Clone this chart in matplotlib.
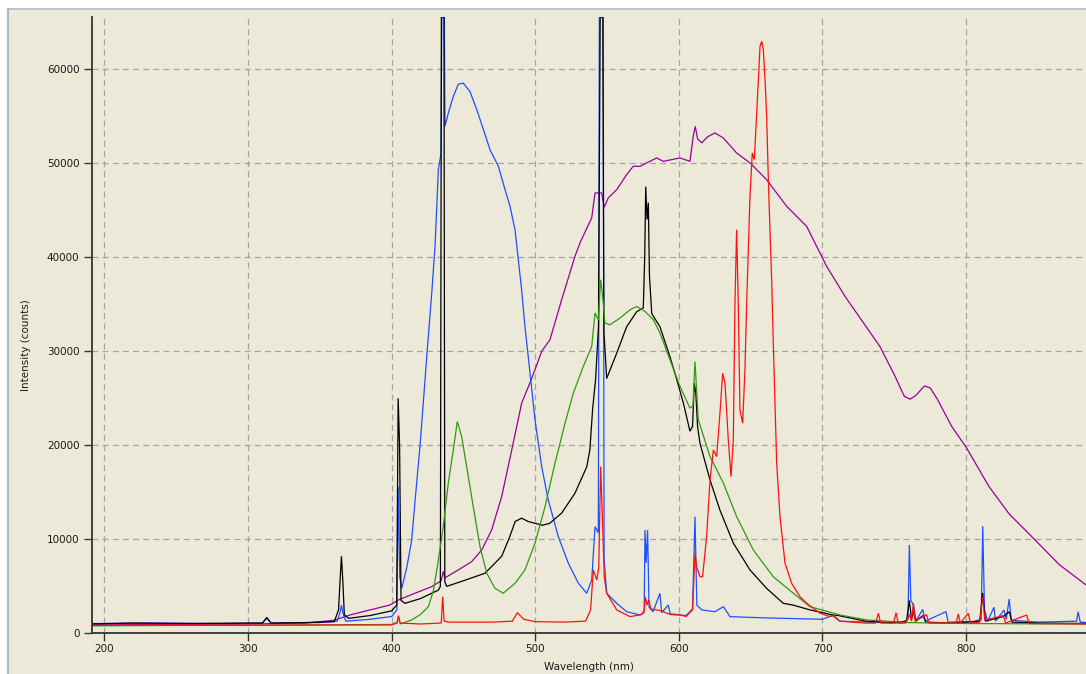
import matplotlib
matplotlib.use("Agg")
import matplotlib.pyplot as plt
from matplotlib.patches import Rectangle
from matplotlib.lines import Line2D

plt.rcParams['lines.scale_dashes'] = False

# ---- data (wavelength nm, intensity counts) ----
purple_pts = [(191,900),(250,950),(300,1000),(340,1100),(360,1400),(371,1960),(385,2500),(398.8,3020),
    (404.6,3550),(416.2,4270),(427.9,4970),(434.5,5600),(435.9,6600),(437,5900),(446.4,6750),(455.7,7630),
    (462.7,8870),(469.6,11000),(476.6,14550),(483.6,19510),(490.5,24480),(497.5,27100),(504.5,30000),
    (510.2,31220),(518.4,35500),(527.6,40080),(531.1,41510),(539.3,44200),(541.6,46830),(546.2,46830),
    (548,45300),(550.8,46300),(556.7,47180),(563.6,48770),(568.2,49660),(572.9,49660),(584.5,50550),
    (589.1,50190),(600.8,50550),(607.7,50190),(610,52850),(611.4,53910),(613,52600),(615.9,52150),
    (620,52800),(625.1,53210),(630.9,52680),(640.2,51080),(649.5,50020),(661.1,48240),(675.1,45400),
    (689,43270),(702.9,39020),(715.7,35830),(740,30500),(750,27500),(757,25200),(761,24900),(765,25300),
    (771,26300),(775,26100),(780,24900),(790,22000),(800,19800),(816,15600),(830,12700),(845,10400),
    (865,7300),(884,5100)]

blue_pts = [(191,1050),(230,1100),(280,1050),(310,1100),(313,1600),(316,1100),(350,1150),(362,1300),
    (364,2200),(365,3000),(366,2200),(368,1300),(385,1500),(400,1800),(403.6,2500),(404.5,15600),
    (405.6,6000),(407,4800),(410.5,7000),(413.9,9900),(416.5,14500),(419.7,19900),(422,24500),
    (424.4,29400),(427.9,36200),(430.2,41200),(432.5,49300),(434.3,51000),(434.9,65535),(436.7,65535),
    (437.1,53900),(439.4,55300),(442.9,57100),(446.4,58400),(449.9,58500),(454.5,57600),(459.2,55700),
    (463.8,53600),(468.5,51400),(474.2,49700),(478.9,47200),(482.4,45400),(485.9,42900),(488.2,39700),
    (490.5,36500),(492.8,32600),(495.1,29400),(499.8,22700),(504.5,17700),(509,14200),(516,10300),
    (523,7460),(530,5330),(535.8,4270),(539.3,5680),(541.6,11350),(543.9,10700),(544.6,65535),
    (547.3,65535),(547.9,8000),(549.7,4270),(556.7,3200),(563.6,2310),(572.9,1960),(575.8,2200),
    (576.4,11000),(577.2,7500),(578.2,11000),(579.2,2800),(582,2300),(586.8,4270),(588,2200),
    (592.6,3020),(594,2000),(605,1900),(609.5,2600),(611.2,12400),(612.5,3000),(616,2500),(625,2300),
    (631,2840),(635.6,1780),(660,1650),(700,1500),(707,1900),(712,1300),(730,1200),(755,1100),
    (759.5,1500),(760.5,9400),(761.5,3500),(763.5,3000),(765,1300),(769.8,2560),(771.5,1300),
    (786,2310),(787.5,1200),(805,1250),(810.5,1500),(811.6,11400),(812.8,2500),(815,1300),(819.4,2780),
    (820.5,1300),(826.4,2490),(828,1500),(830,3660),(831.5,1400),(850,1200),(877,1300),(878,2310),
    (879.5,1200),(884,1150)]

black_pts = [(191,1000),(220,1100),(260,1050),(300,1100),(310,1100),(313,1700),(316,1100),(340,1150),
    (360,1250),(363,2500),(364,5500),(365,8200),(366,5500),(367,2000),(370,1600),(385,1900),(400,2400),
    (403.5,3000),(404.5,25000),(405.5,20000),(406.5,3500),(409.3,3200),(420,3700),(432.5,4600),
    (433.9,5000),(434.6,65535),(436.4,65535),(437.0,5500),(438.3,5000),(450,5600),(465,6400),
    (476.6,8200),(482,10200),(486,11900),(490.5,12250),(495,11900),(500,11700),(505,11500),(510,11700),
    (518.4,12800),(527.6,14900),(535.8,17700),(538,19500),(540,24000),(542,27000),(544,32600),
    (545.2,65535),(547.0,65535),(547.8,32000),(549.7,27100),(556.7,29800),(563.6,32600),(570.6,34200),
    (575.2,34600),(576.2,40000),(576.9,47500),(577.8,44000),(578.7,45800),(579.5,38000),(581.1,34000),
    (586.8,32600),(593.8,29400),(598.5,27000),(603.1,24500),(607.7,21500),(609.5,22000),(610.7,26600),
    (611.8,25500),(613,22000),(614.7,20200),(621.7,16300),(628.6,13100),(637.9,9600),(649.5,6750),
    (661,4800),(672.7,3200),(679.7,3000),(691.3,2500),(707.5,1950),(711,1900),(730,1300),(750,1150),
    (758.5,1300),(760.5,3500),(762,1500),(763.5,2300),(765,1300),(770,1900),(772,1200),(790,1100),
    (809.5,1300),(811.5,4300),(813.5,1300),(826,1800),(830,2300),(832,1200),(850,1100),(884,1050)]

green_pts = [(191,800),(250,850),(300,850),(350,900),(400,950),(403.8,1200),(404.7,1780),(406,1000),
    (413.9,1430),(420,2000),(425.5,2840),(429,4500),(432.5,7810),(435.9,11350),(439.4,15970),
    (442.9,19510),(445.7,22530),(448.7,20930),(452.2,17740),(456.8,13480),(461.5,9220),(466.2,6390),
    (471.9,4800),(477.7,4270),(481,4700),(485.9,5330),(492.8,6750),(499.8,9590),(506.8,13480),
    (513.7,18100),(517.2,20200),(520.7,22350),(526.5,25550),(533.4,28380),(539.3,30510),(541.6,34060),
    (543.9,33350),(545.5,37600),(546.8,36000),(548.5,33000),(552,32810),(559,33530),(566,34410),
    (570.6,34760),(576.4,34230),(582.2,33350),(586.8,31930),(593.8,29090),(600.8,26250),(607.7,23950),
    (609.8,24200),(611.2,28910),(612.3,26000),(613.5,22710),(621.7,18800),(631,15970),(640.2,12420),
    (651.8,8870),(665.7,6030),(679.7,4270),(691.3,2840),(712.2,1960),(730.8,1430),(760,1150),
    (800,1050),(884,1000)]

red_pts = [(191,850),(250,900),(300,880),(350,900),(400,900),(403.8,1100),(404.7,1900),(405.8,1100),
    (420,1000),(434.5,1100),(435.5,3900),(436.5,1300),(440,1200),(470,1200),(484,1300),(487.5,2200),
    (492,1500),(500,1250),(520,1200),(535,1300),(538.5,2500),(540.4,6750),(542.8,5680),(544.2,7000),
    (545.5,17740),(546.8,12000),(548,6000),(549.7,4270),(556.7,2490),(566,1780),(574,2000),(576,2500),
    (576.6,3900),(577.8,3000),(579,3550),(580.5,2600),(588,2400),(592,2100),(600,2000),(605,1800),
    (609.5,2500),(611.2,8500),(612.5,7000),(614.7,6030),(616.5,6030),(619.3,10290),(621.7,16320),
    (624,19510),(626.3,18800),(628.6,23420),(630.5,27680),(632.1,26610),(634.4,20580),(636.3,16670),
    (637.9,20580),(639,34760),(640.2,42920),(641.4,34760),(642.5,23770),(644.4,22350),(646,28030),
    (647.2,35120),(649.5,46470),(651.1,51080),(652.5,50370),(654.2,55340),(656.5,62430),(657.7,62960),
    (658.8,62070),(660,58880),(661.1,54980),(662.3,48240),(663.4,42920),(664.6,37600),(665.7,31000),
    (668.1,18100),(670.4,12420),(673.9,7460),(678.5,5330),(684.3,3900),(689,3200),(698.3,2140),
    (705,1800),(708,1900),(712,1300),(730,1100),(737,1100),(738.9,2140),(740.5,1100),(749.5,1100),
    (751.2,2200),(752.8,1100),(758,1100),(760.5,2000),(762,1300),(763.2,3200),(764.5,1300),
    (772.5,2000),(774,1100),(793,1100),(794.6,2070),(796,1100),(801.5,2140),(803,1100),(809.5,1200),
    (811.6,3900),(813,1400),(826,1900),(827.5,1100),(842.2,1960),(843.8,1050),(884,1000)]

x_ticks = [200, 300, 400, 500, 600, 700, 800]
y_ticks = [0, 10000, 20000, 30000, 40000, 50000, 60000]
x_label = "Wavelength (nm)"
y_label = "Intensity (counts)"

series = [(purple_pts, '#990099'), (blue_pts, '#1F4FFF'), (black_pts, '#000000'),
          (green_pts, '#339911'), (red_pts, '#FF1010')]

BG = '#ECE9D8'
W, H = 1086, 674
fig = plt.figure(figsize=(W/100, H/100), dpi=100, facecolor=BG)

# window frame decorations
fig.patches.append(Rectangle((0, (H-8)/H), 1, 8/H, transform=fig.transFigure, facecolor='white', edgecolor='none'))
fig.patches.append(Rectangle((0, 0), 7/W, 1, transform=fig.transFigure, facecolor='white', edgecolor='none'))
fig.lines.append(Line2D([7.5/W, 1], [(H-8.5)/H]*2, transform=fig.transFigure, color='#B8BCC4', lw=1.2))
fig.lines.append(Line2D([7.5/W]*2, [0, (H-8.5)/H], transform=fig.transFigure, color='#A8B8D0', lw=1.5))

ax = fig.add_axes([92/W, (H-633.4)/H, (W-92)/W, (633.4-17)/H])
ax.set_facecolor(BG)

for pts, col in series:
    xs = [p[0] for p in pts]
    ys = [p[1] for p in pts]
    ax.plot(xs, ys, color=col, lw=0.9, solid_joinstyle='miter')

ax.set_xlim(191.3, 883.5)
ax.set_ylim(0, 65535)
ax.set_xticks(x_ticks)
ax.set_yticks(y_ticks)
ax.grid(True, color='#A4A4A4', lw=0.9, linestyle=(0, (4.3, 3.0)))
ax.set_axisbelow(True)

for s in ['top', 'right']:
    ax.spines[s].set_visible(False)
for s in ['left', 'bottom']:
    ax.spines[s].set_color('#333333')
    ax.spines[s].set_linewidth(1.3)

ax.tick_params(axis='both', direction='out', length=6, width=1, color='#333333',
               labelsize=7.5, labelcolor='#1A1A1A')
ax.tick_params(axis='y', pad=3)
ax.tick_params(axis='x', pad=1.5)
for lab in ax.get_xticklabels() + ax.get_yticklabels():
    lab.set_family('DejaVu Sans')

fig.text(589/W, (H-667)/H, x_label, ha='center', va='center', fontsize=7.5,
         family='DejaVu Sans', color='#1A1A1A')
fig.text(26/W, (H-345)/H, y_label, ha='center', va='center', rotation=90, fontsize=7.5,
         family='DejaVu Sans', color='#1A1A1A')

fig.savefig('out.png', dpi=100, facecolor=BG)
